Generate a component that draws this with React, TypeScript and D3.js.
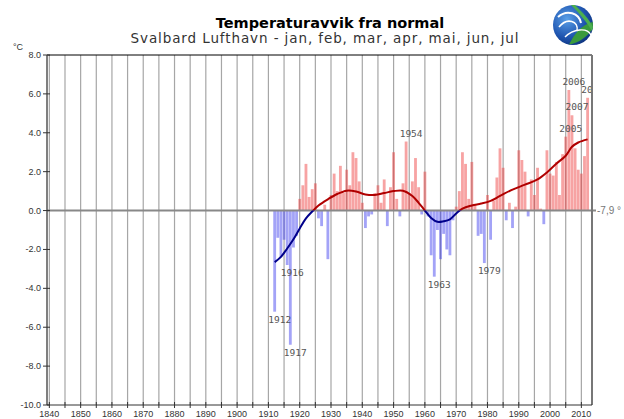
import React from 'react'
import * as d3 from 'd3'

// Svalbard Lufthavn, Jan-Jul mean temperature deviation from normal (degC)
const firstYear = 1912
const anomalies = [
	-5.2, -1.4, -2.4, -1.5, -2.8, -6.9, -1.9, -1.3, 0.6, 1.3, // 1912-1921
	2.4, 0.7, 1.1, 1.4, -0.4, -0.8, 0.3, -2.5, 0.8, 1.9, // 1922-1931
	1.0, 2.3, 0.9, 2.1, 1.3, 3.0, 2.7, 1.5, 0.4, -0.9, // 1932-1941
	-0.3, -0.2, 0.9, 1.3, 0.4, 1.6, -0.8, 1.2, 3.0, 0.6, // 1942-1951
	-0.3, 1.4, 3.55, 0.9, 1.5, 2.7, 1.2, -0.2, 2.0, -0.3, // 1952-1961
	-2.3, -3.4, -1.0, -2.5, -1.2, -2.0, -2.3, -0.5, 0.2, 1.0, // 1962-1971
	3.0, 2.4, 0.6, 2.5, 0.3, -1.3, -1.2, -2.7, 0.8, -1.5, // 1972-1981
	0.5, 1.7, 3.2, 2.2, -0.5, 0.4, -0.9, 0.2, 3.1, 2.6, // 1982-1991
	2.0, -0.3, 1.6, 0.8, 2.2, 0.1, -0.7, 3.1, 1.9, 1.8, // 1992-2001
	2.5, 0.8, 2.9, 3.8, 6.2, 4.9, 3.2, 2.1, 1.9, 2.8, // 2002-2011
	5.8 // 2012
]
const years = anomalies.map((_, i) => firstYear + i)
const labelYears = [1912, 1916, 1917, 1954, 1963, 1979, 2005, 2006, 2007, 2012]

// smoothed curve
const smoothYears = [1912, 1914, 1916, 1918, 1920, 1922, 1924, 1926, 1929, 1932, 1935, 1938, 1941, 1944, 1947, 1950, 1953, 1956, 1958, 1960, 1962, 1964, 1966, 1968, 1970, 1972, 1975, 1978, 1981, 1984, 1988, 1992, 1996, 1999, 2002, 2005, 2007, 2009, 2012]
const smoothValues = [-2.65, -2.38, -1.95, -1.48, -0.92, -0.4, -0.05, 0.26, 0.58, 0.85, 1.02, 0.98, 0.83, 0.8, 0.9, 1.0, 1.02, 0.75, 0.4, 0.0, -0.38, -0.58, -0.55, -0.45, -0.15, 0.1, 0.26, 0.36, 0.5, 0.75, 1.08, 1.33, 1.6, 1.96, 2.41, 2.82, 3.28, 3.5, 3.66]

const yTicks = [-10, -8, -6, -4, -2, 0, 2, 4, 6, 8]
const xLabels = [1840, 1850, 1860, 1870, 1880, 1890, 1900, 1910, 1920, 1930, 1940, 1950, 1960, 1970, 1980, 1990, 2000, 2010]
const gridYears = d3.range(1840, 2011, 5)

const width = 624
const height = 419
const left = 47
const right = 592
const top = 55
const bottom = 405

export default function App(){
	const x = d3.scaleLinear().domain([1839.25, 2013.4]).range([left, right])
	const y = d3.scaleLinear().domain([-10, 8]).range([bottom, top])
	const bw = (x(1) - x(0)) * 0.9
	const y0 = y(0)

	const line = d3.line<number>()
		.x((d, i) => x(smoothYears[i]))
		.y(d => y(d))
		.curve(d3.curveCatmullRom.alpha(0.5))
	const smoothPath = line(smoothValues) || ''

	const tickFont = '"Liberation Sans Narrow", "Liberation Sans", sans-serif'
	const labelFont = '"DejaVu Sans Mono", monospace'

	return (
		<div style={{position: 'absolute', left: 0, top: 0}}>
			<svg width={width} height={height} style={{display: 'block', background: '#fff'}}>
				<defs>
					<clipPath id="plotClip"><rect x={left} y={top} width={right - left} height={bottom - top}/></clipPath>
					<clipPath id="posClip"><rect x={left} y={top} width={right - left} height={y0 - top}/></clipPath>
					<clipPath id="negClip"><rect x={left} y={y0} width={right - left} height={bottom - y0}/></clipPath>
					<radialGradient id="logoGrad" cx="0.35" cy="0.35" r="0.75">
						<stop offset="0" stopColor="#5aa0e8"/>
						<stop offset="0.6" stopColor="#1f55b0"/>
						<stop offset="1" stopColor="#0c2f78"/>
					</radialGradient>
				</defs>

				{/* titles */}
				<text x={330} y={28} textAnchor="middle" fontFamily='"DejaVu Sans", sans-serif' fontWeight="bold" fontSize={14.5} fill="#000">Temperaturavvik fra normal</text>
				<text x={325} y={43} textAnchor="middle" fontFamily='"DejaVu Sans", sans-serif' fontSize={13.5} letterSpacing={0.9} fill="#333">Svalbard Lufthavn - jan, feb, mar, apr, mai, jun, jul</text>

				{/* logo */}
				<g transform="translate(573,25)">
					<circle r={20} fill="url(#logoGrad)"/>
					<path d="M -4,19.6 C 2,8 8,0 19.8,-3 L 20,3 C 14,12 6,18 -4,19.6 Z" fill="#3a9a3c"/>
					<path d="M 2,-19.9 C 10,-12 16,-6 19.9,2 L 19,6 C 14,-2 8,-10 -2,-19.9 Z" fill="#4caf50"/>
					<path d="M -15,-8 C -6,-16 6,-12 8,-2" fill="none" stroke="#fff" strokeWidth={2}/>
					<path d="M -14,2 C -6,-8 6,-4 4,6" fill="none" stroke="#fff" strokeWidth={1.6}/>
					<path d="M -8,12 C 0,4 14,2 18,10" fill="none" stroke="#fff" strokeWidth={1.4}/>
				</g>

				{/* degree unit */}
				<text x={13} y={50} fontFamily={tickFont} fontSize={9} fill="#333">°C</text>

				{/* vertical grid every 5 years */}
				{gridYears.map(g => (
					<line key={'g' + g} x1={x(g)} x2={x(g)} y1={top} y2={bottom} stroke="#a6a6a6" strokeWidth={1.2}/>
				))}

				{/* bars */}
				<g clipPath="url(#plotClip)">
					{anomalies.map((v, i) => (
						<rect key={'b' + years[i]}
							x={x(years[i]) - bw / 2}
							y={y(Math.max(0, v))}
							width={bw}
							height={Math.abs(y(v) - y0)}
							fill={v >= 0 ? '#ee3333' : '#3333ee'}
							fillOpacity={0.45}/>
					))}
				</g>

				{/* zero line */}
				<line x1={left} x2={right + 4} y1={y0} y2={y0} stroke="#888" strokeWidth={2}/>
				<text x={597} y={y0 + 3} fontFamily={tickFont} fontSize={10} fill="#777">-7,9 °</text>

				{/* smoothed curve, red above zero and blue below */}
				<path d={smoothPath} fill="none" stroke="#b00000" strokeWidth={2} clipPath="url(#posClip)"/>
				<path d={smoothPath} fill="none" stroke="#00008b" strokeWidth={2} clipPath="url(#negClip)"/>

				{/* extreme year labels */}
				<g clipPath="url(#plotClip)">
					{labelYears.map(ly => {
						const v = anomalies[ly - firstYear]
						return (
							<text key={'l' + ly} x={x(ly) + 5} y={v < 0 ? y(v) + 11 : y(v) - 5}
								textAnchor="middle" fontFamily={labelFont} fontSize={9.5} fill="#555">{ly}</text>
						)
					})}
				</g>

				{/* frame */}
				<line x1={left} x2={right} y1={top} y2={top} stroke="#000" strokeWidth={1}/>
				<line x1={right} x2={right} y1={top} y2={bottom} stroke="#777" strokeWidth={2}/>
				<line x1={left} x2={left} y1={top} y2={bottom} stroke="#555" strokeWidth={1.5}/>
				<line x1={left} x2={right} y1={bottom} y2={bottom} stroke="#333" strokeWidth={1}/>

				{/* y axis */}
				{yTicks.map(t => (
					<g key={'y' + t}>
						<line x1={43} x2={50} y1={y(t)} y2={y(t)} stroke="#333"/>
						<text x={41} y={y(t) + 3} textAnchor="end" fontFamily={tickFont} fontSize={9} fill="#333">{t.toFixed(1)}</text>
					</g>
				))}

				{/* x axis */}
				{gridYears.map(g => (
					<line key={'t' + g} x1={x(g)} x2={x(g)} y1={bottom - 3} y2={bottom + 3} stroke="#333"/>
				))}
				{xLabels.map(l => (
					<text key={'x' + l} x={x(l)} y={417} textAnchor="middle" fontFamily={tickFont} fontSize={9} fill="#333">{l}</text>
				))}
			</svg>
		</div>
	)
}
